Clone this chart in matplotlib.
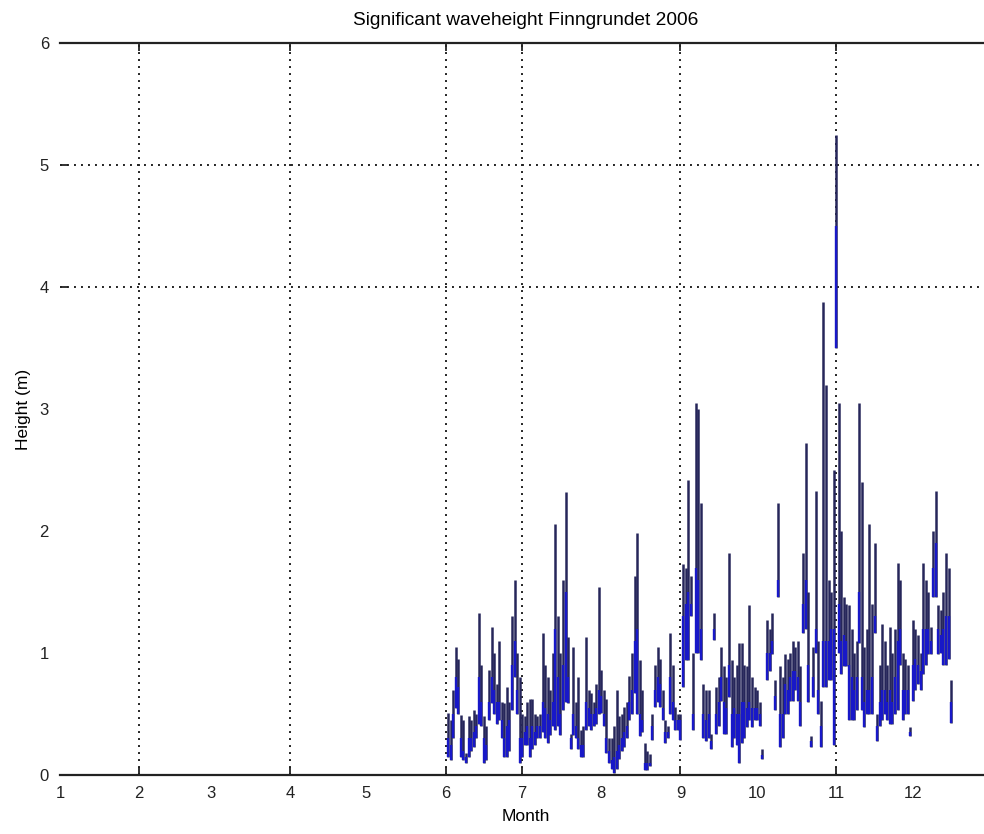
import numpy as np
import matplotlib
matplotlib.use("Agg")
import matplotlib.pyplot as plt

plt.rcParams['font.family'] = ['Liberation Sans', 'DejaVu Sans']

nan = np.nan

# Day of year (0 = 1 January) of every sample
days = list(range(152, 350))

# Daily minimum of significant wave height (m)
hs_low = [
    0.15, 0.12, 0.30, 0.55, 0.50, 0.15, 0.12, 0.10, 0.15, 0.20,
    0.23, 0.30, 0.42, 0.40, 0.10, 0.12, 0.45, 0.59, 0.50, 0.42,
    0.45, 0.30, 0.15, 0.15, 0.20, 0.53, 0.80, 0.50, 0.10, 0.15,
    0.25, 0.25, 0.15, 0.21, 0.25, 0.30, 0.30, 0.35, 0.30, 0.26,
    0.33, 0.40, 0.37, 0.40, 0.33, 0.53, 0.60, 0.59, 0.21, 0.33,
    0.30, 0.21, 0.15, 0.15, 0.37, 0.40, 0.37, 0.40, 0.42, 0.50,
    0.51, 0.40,
    0.18, 0.10, 0.05, 0.02, 0.05, 0.13, 0.20, 0.23, 0.30, 0.45,
    0.50, 0.67, 0.50, 0.32, 0.35, 0.04, 0.04, 0.07, 0.29, 0.56,
    0.60, 0.56, 0.45, 0.26, 0.30, 0.50, 0.45, 0.37, 0.37, 0.29,
    0.72, 0.94, 0.94, 1.30, 0.37, 1.00,
    1.00, 0.94, 0.30, 0.28, 0.30, 0.21, 1.11, 0.34, 0.40, 0.61,
    0.34, 0.34, 0.64, 0.23, 0.30, 0.25, 0.10, 0.26, 0.30, 0.39,
    0.45, 0.39, 0.45, 0.45, 0.40, 0.13, nan, 0.78, 0.85, 0.99,
    0.53, 1.46, 0.23, 0.30, 0.50, 0.50, 0.61, 0.61, 0.70, 0.61,
    0.40, 1.16, 1.20, 0.60, 0.23, 0.64, 1.00, 0.50, 0.23, 0.72,
    0.72, 0.78, 0.78, 0.25, 3.50, 1.00, 0.83, 0.89, 0.89, 0.45,
    0.45, 0.45, 0.53, 1.08, 0.53, 0.39, 0.50, 0.50, 0.50, 1.16,
    0.28, 0.40, 0.45, 0.50, 0.45, 0.42, 0.42, 0.50, 0.53, 0.90,
    0.45, 0.50, 0.50, 0.32, 0.61, 0.70, 0.75, 0.70, 0.83, 0.90,
    0.99, 0.99, 1.46, 1.46, 0.99, 1.00, 0.90, 0.90, 0.95, 0.43,
]

# Daily maximum (m)
hs_high = [
    0.51, 0.45, 0.70, 1.05, 0.95, 0.49, 0.45, 0.18, 0.48, 0.45,
    0.53, 0.50, 1.33, 0.90, 0.48, 0.40, 0.86, 1.21, 1.00, 0.75,
    1.10, 0.60, 0.59, 0.72, 0.60, 1.30, 1.60, 1.00, 0.80, 0.50,
    0.48, 0.60, 0.62, 0.62, 0.50, 0.48, 0.50, 1.16, 0.90, 0.80,
    0.70, 1.00, 2.06, 1.30, 1.00, 1.60, 2.32, 1.13, 0.34, 1.05,
    0.60, 0.80, 0.37, 0.40, 1.13, 0.70, 0.67, 0.60, 0.75, 1.54,
    0.86, 0.70,
    0.62, 0.30, 0.30, 0.40, 0.70, 0.48, 0.50, 0.56, 0.60, 0.81,
    1.00, 1.63, 1.98, 0.94, 0.70, 0.26, 0.20, 0.17, 0.50, 0.90,
    1.05, 0.95, 0.70, 0.45, 0.40, 1.16, 0.90, 0.56, 0.50, 0.50,
    1.73, 1.70, 2.42, 1.63, 1.00, 3.05,
    3.00, 2.23, 0.75, 0.70, 0.70, 0.34, 1.33, 0.72, 0.80, 1.05,
    0.89, 0.80, 1.82, 0.94, 0.80, 0.90, 1.08, 1.08, 0.90, 0.89,
    1.39, 0.80, 0.72, 0.70, 0.60, 0.21, nan, 1.27, 1.20, 1.33,
    0.78, 2.23, 0.89, 0.80, 0.99, 0.95, 1.00, 1.10, 1.05, 1.10,
    0.89, 1.82, 2.72, 1.50, 0.32, 1.05, 2.33, 1.10, 0.61, 3.88,
    3.20, 1.60, 1.50, 2.50, 5.25, 3.05, 2.00, 1.46, 1.40, 1.39,
    1.20, 1.00, 1.10, 3.05, 2.40, 1.05, 1.20, 2.06, 1.40, 1.90,
    0.50, 0.90, 1.24, 1.10, 0.90, 1.21, 1.00, 1.20, 1.74, 1.60,
    1.00, 0.95, 0.90, 0.39, 1.27, 1.20, 1.15, 1.00, 1.74, 1.60,
    1.50, 1.21, 2.00, 2.33, 1.39, 1.35, 1.50, 1.82, 1.70, 0.78,
]

# Typical level of the day (m)
hs_typ = [
    0.30, 0.25, 0.50, 0.80, 0.72, 0.30, 0.20, 0.15, 0.30, 0.30,
    0.35, 0.40, 0.80, 0.60, 0.30, 0.25, 0.60, 0.80, 0.70, 0.60,
    0.60, 0.45, 0.30, 0.40, 0.45, 0.90, 1.10, 0.70, 0.30, 0.30,
    0.35, 0.40, 0.30, 0.40, 0.35, 0.40, 0.40, 0.60, 0.55, 0.50,
    0.45, 0.60, 1.20, 0.80, 0.50, 0.90, 1.50, 0.80, 0.30, 0.50,
    0.40, 0.30, 0.25, 0.25, 0.60, 0.55, 0.50, 0.50, 0.55, 0.70,
    0.65, 0.50,
    0.30, 0.20, 0.12, 0.15, 0.20, 0.25, 0.30, 0.35, 0.40, 0.60,
    0.70, 1.10, 1.20, 0.50, 0.45, 0.10, 0.10, 0.10, 0.40, 0.70,
    0.80, 0.75, 0.55, 0.35, 0.35, 0.80, 0.60, 0.45, 0.45, 0.45,
    1.30, 1.40, 1.50, 1.40, 0.50, 1.70,
    1.60, 1.20, 0.50, 0.45, 0.50, 0.28, 1.20, 0.50, 0.60, 0.80,
    0.60, 0.55, 0.90, 0.50, 0.55, 0.50, 0.50, 0.60, 0.60, 0.55,
    0.60, 0.55, 0.55, 0.55, 0.50, 0.16, nan, 1.00, 1.00, 1.10,
    0.65, 1.60, 0.50, 0.50, 0.75, 0.70, 0.80, 0.85, 0.85, 0.80,
    0.60, 1.40, 1.60, 0.90, 0.28, 0.80, 1.20, 0.70, 0.40, 1.10,
    1.10, 1.10, 1.20, 1.20, 4.50, 1.40, 1.10, 1.15, 1.10, 0.90,
    0.80, 0.70, 0.80, 1.50, 0.80, 0.60, 0.70, 0.70, 0.80, 1.30,
    0.40, 0.60, 0.70, 0.70, 0.60, 0.70, 0.60, 0.80, 1.10, 1.20,
    0.70, 0.70, 0.70, 0.35, 0.90, 0.95, 0.90, 0.85, 1.20, 1.20,
    1.20, 1.10, 1.70, 1.90, 1.20, 1.15, 1.20, 1.30, 1.30, 0.60,
]

month_len = [31, 28, 31, 30, 31, 30, 31, 31, 30, 31, 30, 31]
month_labels = [str(m) for m in range(1, 13)]
grid_months = [2, 4, 6, 7, 9, 11]
height_ticks = [0, 1, 2, 3, 4, 5, 6]
grid_heights = [4, 5]

month_start = np.concatenate([[0], np.cumsum(month_len)[:-1]])

fig = plt.figure(figsize=(9.84, 8.34), dpi=100)
ax = fig.add_axes([60 / 984, 59 / 834, 932 / 984, 732 / 834])

# daily range in dark blue, lower part of the range in bright blue on top
ax.vlines(days, hs_low, hs_high, color='#26265a', linewidth=1.8, zorder=3)
ax.vlines(days, hs_low, hs_typ, color='#1818c8', linewidth=1.7, zorder=4)

ax.set_xlim(0, 365)
ax.set_ylim(0, 6)

# labels on every month, ticks and grid only on some
ax.xaxis.remove_overlapping_locs = False
ax.yaxis.remove_overlapping_locs = False
ax.set_xticks(month_start, month_labels)
ax.set_xticks([month_start[m - 1] for m in grid_months], minor=True)
ax.set_yticks(height_ticks)
ax.set_yticks(grid_heights, minor=True)
ax.tick_params(which='major', length=0, labelsize=12, pad=8, colors='#222222')
ax.tick_params(which='minor', direction='in', length=6, width=1.3,
               color='#222222', top=True, right=True,
               labelbottom=False, labelleft=False)
ax.grid(which='major', visible=False)
ax.grid(which='minor', color='#222222', linestyle=(0, (1, 2.6)), linewidth=1.4)

for side in ['left', 'right']:
    ax.spines[side].set_visible(False)
for side in ['top', 'bottom']:
    ax.spines[side].set_linewidth(1.6)
    ax.spines[side].set_color('#222222')

ax.set_title('Significant waveheight Finngrundet 2006', fontsize=13.8, pad=13)
ax.set_xlabel('Month', fontsize=12.5, labelpad=6)
ax.set_ylabel('Height (m)', fontsize=12.5, labelpad=6)

fig.savefig('out.png', dpi=100)
